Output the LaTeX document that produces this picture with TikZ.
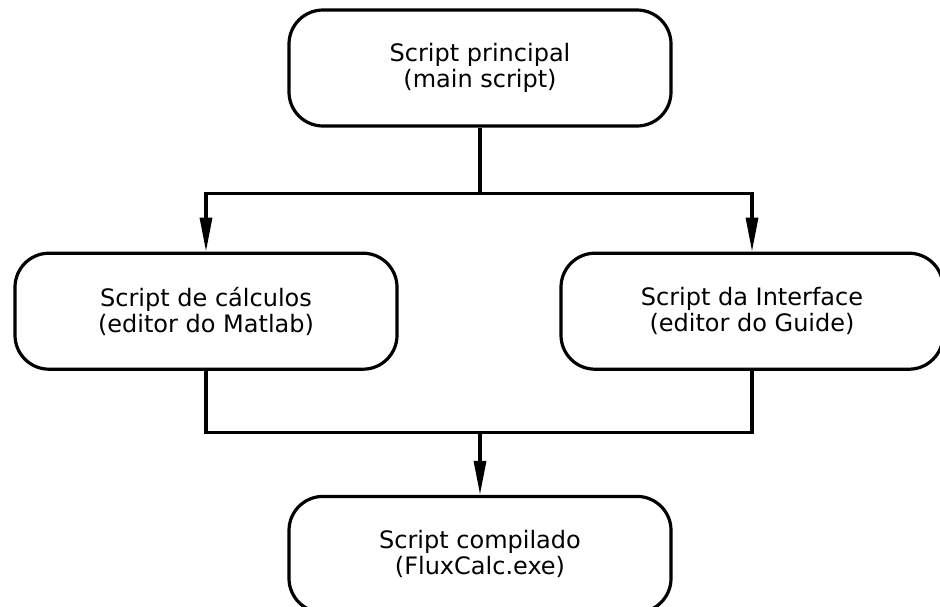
\documentclass[tikz,border=0pt]{standalone}
\usepackage{fontspec}
\setmainfont{DejaVu Sans}
\usepackage{tikz}
\usetikzlibrary{arrows.meta,positioning}
\tikzset{
  blk/.style={rectangle, rounded corners=17pt, draw=black, line width=1.6pt,
    fill=white, align=center, minimum width=191pt, minimum height=58pt,
    font=\fontsize{12}{13}\selectfont},
  link/.style={line width=1.6pt, draw=black},
  flow/.style={link, -{Triangle[length=17pt, width=6pt]}},
}
\begin{document}
\begin{tikzpicture}
  \useasboundingbox (0,0) rectangle (470pt,-303pt);
  \node[blk] (main) at (240pt,-34pt) {Script principal\\(main script)};
  \node[blk, below=62pt of main, xshift=-137pt] (calc) {Script de cálculos\\(editor do Matlab)};
  \node[blk, below=62pt of main, xshift=136pt] (gui) {Script da Interface\\(editor do Guide)};
  \coordinate (mid) at (calc.south -| main.south);
  \node[blk, below=62pt of mid] (exe) {Script compilado\\(FluxCalc.exe)};
  \coordinate[below=33pt of main.south] (split);
  \coordinate[above=31pt of exe.north] (join);
  \draw[link] (main.south) -- (split);
  \draw[flow] (split) -| (calc.north);
  \draw[flow] (split) -| (gui.north);
  \draw[link] (calc.south) |- (join);
  \draw[link] (gui.south) |- (join);
  \draw[flow] (join) -- (exe.north);
\end{tikzpicture}
\end{document}
